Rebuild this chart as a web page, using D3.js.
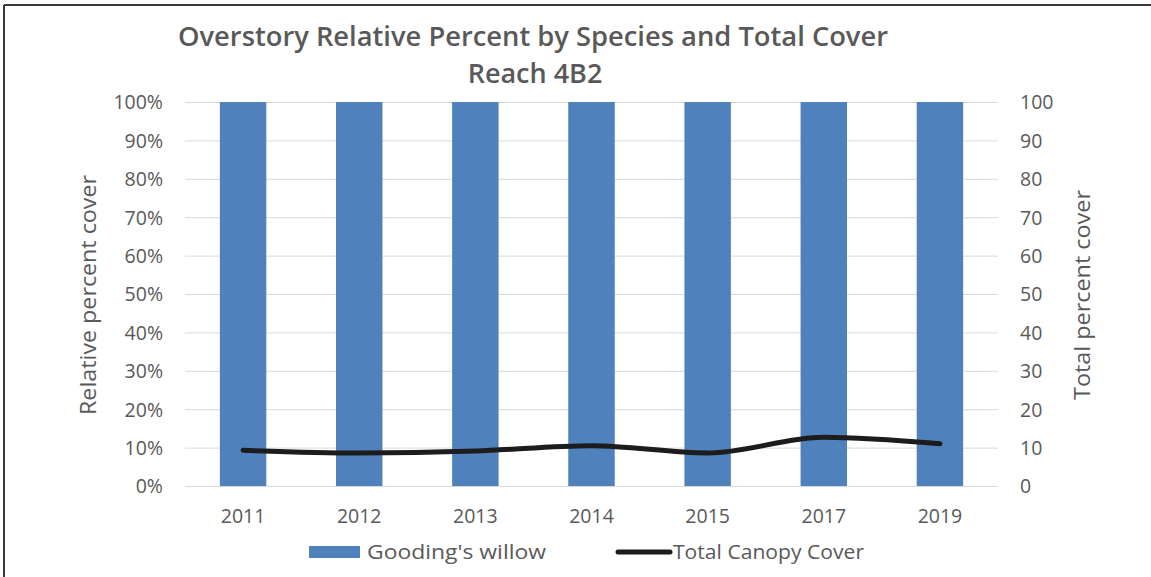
<!DOCTYPE html>
<html>
<head>
<meta charset="utf-8">
<script src="https://cdn.jsdelivr.net/npm/d3@7"></script>
<style>
  html, body { margin: 0; padding: 0; background: #fff; }
  svg { display: block; }
  text { font-family: "Open Sans", "DejaVu Sans", sans-serif; fill: #595959; }
</style>
</head>
<body>
<svg id="chart" width="1151" height="577"></svg>
<script>
const years = ["2011", "2012", "2013", "2014", "2015", "2017", "2019"];
const goodingsWillow = [100, 100, 100, 100, 100, 100, 100];
const totalCanopyCover = [9.3, 8.6, 9.1, 10.5, 8.6, 12.7, 11.0];
const leftTicks = [0, 10, 20, 30, 40, 50, 60, 70, 80, 90, 100];
const rightTicks = [0, 10, 20, 30, 40, 50, 60, 70, 80, 90, 100];
const titleLines = ["Overstory Relative Percent by Species and Total Cover", "Reach 4B2"];

const W = 1151, H = 577;
const m = { left: 185, right: 998, top: 102, bottom: 486 };
const svg = d3.select("#chart");

svg.append("rect").attr("width", W).attr("height", H).attr("fill", "#fff");
// outer border (top + left visible)
svg.append("line").attr("x1", 4).attr("x2", W).attr("y1", 5).attr("y2", 5)
  .attr("stroke", "#3a3a3a").attr("stroke-width", 2);
svg.append("line").attr("x1", 4).attr("x2", 4).attr("y1", 5).attr("y2", H)
  .attr("stroke", "#3a3a3a").attr("stroke-width", 2);

const x = d3.scaleBand().domain(years).range([m.left, m.right]).paddingInner(0.6).paddingOuter(0.3);
const yL = d3.scaleLinear().domain([0, 100]).range([m.bottom, m.top]);
const yR = d3.scaleLinear().domain([0, 100]).range([m.bottom, m.top]);

// gridlines
svg.append("g").selectAll("line").data(leftTicks).join("line")
  .attr("x1", m.left).attr("x2", m.right)
  .attr("y1", d => yL(d) + 0.5).attr("y2", d => yL(d) + 0.5)
  .attr("stroke", "#d9d9d9").attr("stroke-width", 1);

// bars
svg.append("g").selectAll("rect").data(years).join("rect")
  .attr("x", d => x(d)).attr("width", x.bandwidth())
  .attr("y", (d, i) => yL(goodingsWillow[i]))
  .attr("height", (d, i) => yL(0) - yL(goodingsWillow[i]))
  .attr("fill", "#4f81bd");

// line
const xc = d => x(d) + x.bandwidth() / 2;
svg.append("path")
  .datum(years.map((d, i) => [xc(d), yR(totalCanopyCover[i])]))
  .attr("d", d3.line().curve(d3.curveMonotoneX))
  .attr("fill", "none").attr("stroke", "#1c1c1c").attr("stroke-width", 5)
  .attr("stroke-linecap", "round").attr("stroke-linejoin", "round");

const tickFont = "19.5px";

// left axis
const axL = d3.axisLeft(yL).tickValues(leftTicks).tickFormat(d => d + "%").tickSize(0).tickPadding(22);
const gL = svg.append("g").attr("transform", `translate(${m.left},0)`).call(axL);
gL.select(".domain").remove();
gL.selectAll("text").style("font-size", tickFont).attr("fill", "#595959").attr("dy", "0.35em");

// right axis
const axR = d3.axisRight(yR).tickValues(rightTicks).tickSize(0).tickPadding(22);
const gR = svg.append("g").attr("transform", `translate(${m.right},0)`).call(axR);
gR.select(".domain").remove();
gR.selectAll("text").style("font-size", tickFont).attr("fill", "#595959").attr("dy", "0.35em");

// x axis
const axB = d3.axisBottom(x).tickSize(0).tickPadding(23);
const gB = svg.append("g").attr("transform", `translate(0,${m.bottom})`).call(axB);
gB.select(".domain").remove();
gB.selectAll("text").style("font-size", tickFont).attr("fill", "#595959");

// axis titles
svg.append("text").attr("transform", "translate(96,295) rotate(-90)")
  .attr("text-anchor", "middle").style("font-size", "22px")
  .attr("textLength", 240).attr("lengthAdjust", "spacingAndGlyphs").text("Relative percent cover");
svg.append("text").attr("transform", "translate(1090,295) rotate(-90)")
  .attr("text-anchor", "middle").style("font-size", "22px")
  .attr("textLength", 210).attr("lengthAdjust", "spacingAndGlyphs").text("Total percent cover");

// title
svg.append("text").attr("x", 533).attr("y", 46).attr("text-anchor", "middle")
  .style("font-size", "27px").style("font-weight", "600").attr("fill", "#595959")
  .attr("textLength", 710).attr("lengthAdjust", "spacingAndGlyphs").text(titleLines[0]);
svg.append("text").attr("x", 535).attr("y", 83).attr("text-anchor", "middle")
  .style("font-size", "27px").style("font-weight", "600").attr("fill", "#595959")
  .text(titleLines[1]);

// legend
const lg = svg.append("g");
lg.append("rect").attr("x", 309).attr("y", 546).attr("width", 51).attr("height", 12).attr("fill", "#4f81bd");
lg.append("text").attr("x", 367).attr("y", 559).style("font-size", "20px")
  .attr("textLength", 179).attr("lengthAdjust", "spacingAndGlyphs").text("Gooding's willow");
lg.append("line").attr("x1", 618).attr("x2", 670).attr("y1", 552).attr("y2", 552)
  .attr("stroke", "#1c1c1c").attr("stroke-width", 5).attr("stroke-linecap", "round");
lg.append("text").attr("x", 673).attr("y", 559).style("font-size", "20px")
  .attr("textLength", 191).attr("lengthAdjust", "spacingAndGlyphs").text("Total Canopy Cover");
</script>
</body>
</html>
